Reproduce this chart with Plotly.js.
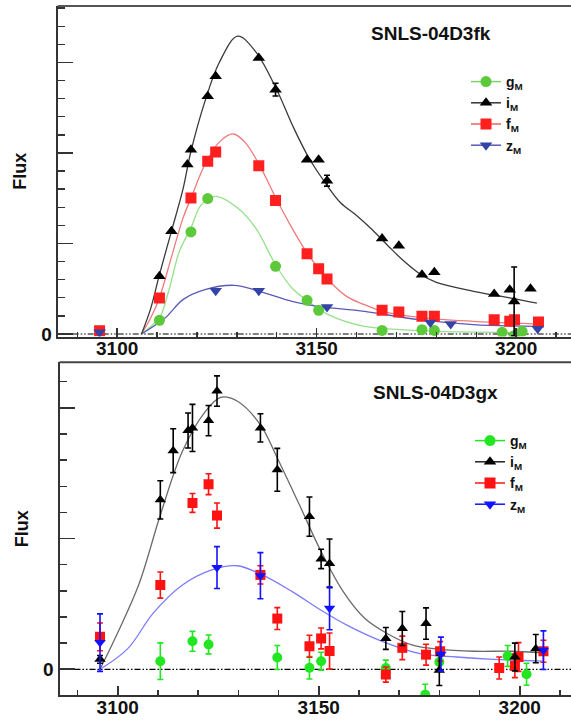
<!DOCTYPE html>
<html><head><meta charset="utf-8">
<script src="https://cdn.plot.ly/plotly-3.0.1.min.js"></script>
<style>html,body{margin:0;padding:0;background:#fff;overflow:hidden}#chart{width:571px;height:722px}</style>
</head><body><div id="chart"></div>
<script>
// ---------- Top panel: SNLS-04D3fk ----------
const fk_g_x = [3110.6,3118.5,3122.7,3139.7,3147.6,3150.5,3166.4,3176.4,3179.5,3196.5,3199.5,3201.5];
const fk_g_y = [0.76,5.64,7.48,3.74,1.86,1.31,0.20,0.24,0.20,0.09,-0.09,0.15];

const fk_i_x = [3110.6,3113.6,3117.6,3118.5,3122.7,3124.7,3135.5,3139.7,3147.6,3150.5,3152.6,3166.4,3170.6,3176.4,3179.5,3194.5,3198.4,3199.5,3203.6];
const fk_i_y = [3.19,5.67,9.36,10.18,13.13,14.24,15.25,13.5,9.63,9.63,8.47,5.27,4.88,3.28,3.41,2.21,2.45,1.80,2.50];
const fk_i_err = [0,0,0,0,0,0,0,0.35,0,0,0.3,0,0,0,0,0,0,1.9,0];

const fk_f_x = [3095.6,3110.6,3118.5,3122.7,3124.7,3135.5,3139.7,3147.6,3150.5,3152.6,3166.4,3170.6,3176.4,3179.5,3194.5,3198.4,3199.6,3205.6];
const fk_f_y = [0.18,1.99,7.51,9.54,10.06,9.30,7.38,4.44,3.61,3.04,1.31,1.22,0.98,0.98,0.79,0.70,0.79,0.66];

const fk_z_x = [3095.6,3124.7,3135.5,3152.6,3178.5,3183.6,3205.4];
const fk_z_y = [0.09,2.39,2.39,1.49,0.64,0.55,0.29];

// fitted curves
const fk_icurve_x = [3106.1,3108.4,3110.6,3113.6,3116.5,3118.4,3122.0,3125.6,3130.2,3134.7,3140.2,3144.0,3148.0,3152.0,3156.0,3160.0,3164.0,3168.0,3172.0,3176.0,3180.0,3189.3,3198.4,3205.2];
const fk_icurve_y = [0,1.4,3.28,5.67,8.0,10.0,12.85,15.0,16.45,15.6,13.4,11.5,9.75,8.4,7.25,6.55,5.75,4.85,4.0,3.3,2.85,2.36,2.0,1.71];
const fk_fcurve_x = [3106.1,3108.4,3110.6,3113.8,3116.5,3118.5,3122.0,3125.6,3129.1,3132.0,3135.6,3140.2,3143.8,3147.9,3152.9,3157.5,3162.0,3166.5,3175.6,3189.3,3205.6];
const fk_fcurve_y = [0,0.88,2.0,4.4,6.4,7.5,9.36,10.6,11.05,10.6,9.36,7.33,5.86,4.38,3.0,2.08,1.62,1.25,0.92,0.7,0.55];
const fk_gcurve_x = [3106.1,3108.4,3110.6,3112.9,3115.6,3118.5,3121.1,3124.7,3130.2,3134.7,3139.7,3143.8,3147.9,3152.9,3162.0,3171.0,3180.2,3200.2];
const fk_gcurve_y = [0,0.42,0.88,2.36,4.57,5.86,7.15,7.6,6.96,5.86,3.83,2.54,1.8,1.07,0.42,0.24,0.15,0.09];
const fk_zcurve_x = [3106.1,3112.0,3116.5,3122.0,3129.3,3135.6,3143.8,3150.2,3162.0,3175.6,3189.3,3205.2];
const fk_zcurve_y = [0,0.88,1.9,2.45,2.69,2.36,1.8,1.53,1.25,0.79,0.52,0.42];

// ---------- Bottom panel: SNLS-04D3gx ----------
const gx_g_x = [3110.6,3118.6,3122.6,3139.7,3147.7,3150.6,3166.7,3176.5,3180.0,3197.0,3201.7];
const gx_g_y = [0.31,1.07,0.95,0.45,0.06,0.31,0.05,-0.97,0.28,0.51,-0.19];
const gx_g_err = [0.70,0.38,0.36,0.46,0.43,0.34,0.30,0.40,0.35,0.40,0.42];

const gx_i_x = [3095.6,3110.6,3113.8,3117.5,3118.6,3122.6,3124.7,3135.5,3139.7,3147.7,3150.6,3152.7,3166.7,3170.8,3176.7,3180.0,3198.8,3204.0];
const gx_i_y = [0.38,6.48,8.36,9.13,9.23,9.51,10.64,9.23,7.63,5.84,4.22,4.05,1.18,1.56,1.75,-0.04,0.47,0.79];
const gx_i_err = [0.15,0.73,0.84,0.67,0.90,0.58,0.58,0.54,0.82,0.75,0.37,0.93,0.42,0.65,0.60,0.58,0.53,0.54];

const gx_f_x = [3095.6,3110.6,3118.6,3122.6,3124.7,3135.5,3139.7,3147.7,3150.6,3152.7,3166.7,3170.8,3176.7,3180.2,3194.9,3198.8,3199.7,3205.9];
const gx_f_y = [1.24,3.22,6.36,7.08,5.88,3.61,1.94,0.88,1.18,0.70,-0.20,0.82,0.56,0.69,0.05,0.13,0.47,0.69];
const gx_f_err = [0.53,0.50,0.36,0.40,0.48,0.35,0.42,0.42,0.40,0.69,0.29,0.45,0.40,0.37,0.42,0.45,0.55,0.42];

const gx_z_x = [3095.6,3124.7,3135.5,3152.7,3180.4,3205.9];
const gx_z_y = [1.02,3.89,3.58,2.33,0.58,0.73];
const gx_z_err = [1.10,0.80,0.88,0.82,0.65,0.74];

const gx_icurve_x = [3095.6,3099.7,3105.2,3110.6,3116.1,3121.5,3125.6,3129.7,3135.5,3139.7,3145.2,3150.6,3156.1,3161.5,3167.0,3173.4,3179.7,3188.8,3197.9,3205.6];
const gx_icurve_y = [0,1.3,3.22,5.9,8.34,9.8,10.4,10.26,9.35,8.08,6.29,4.5,2.97,1.94,1.37,0.92,0.77,0.69,0.69,0.63];
const gx_zcurve_x = [3095.6,3102.5,3108.8,3116.1,3123.4,3129.7,3136.1,3143.4,3150.6,3157.0,3166.1,3175.2,3184.3,3193.4,3205.6];
const gx_zcurve_y = [0,0.79,2.14,3.22,3.8,3.96,3.6,2.97,2.26,1.69,1.05,0.6,0.47,0.38,0.31];

const legendNames = ['g<sub>M</sub>','i<sub>M</sub>','f<sub>M</sub>','z<sub>M</sub>'];
const panelTitles = ['SNLS-04D3fk','SNLS-04D3gx'];

const FONT = 'Liberation Sans, Arial, sans-serif';

function pts(x, y, err, color, symbol, size, xa, ya) {
  const t = {x: x, y: y, mode: 'markers', type: 'scatter', xaxis: xa, yaxis: ya, showlegend: false,
    marker: {color: color, symbol: symbol, size: size, line: {width: 0}}, hoverinfo: 'x+y'};
  if (err) t.error_y = {type: 'data', array: err, visible: true, color: color, thickness: 1.6, width: 3};
  return t;
}
function curve(x, y, color, xa, ya, w) {
  return {x: x, y: y, mode: 'lines', type: 'scatter', xaxis: xa, yaxis: ya, showlegend: false,
    line: {color: color, width: w || 1.3, shape: 'spline', smoothing: 1}, hoverinfo: 'skip'};
}
function leg(name, color, lineColor, symbol, legendId) {
  return {x: [null], y: [null], mode: 'lines+markers', type: 'scatter', name: name, legend: legendId,
    xaxis: legendId === 'legend' ? 'x' : 'x2', yaxis: legendId === 'legend' ? 'y' : 'y2',
    marker: {color: color, symbol: symbol, size: 11}, line: {color: lineColor, width: 1.5}};
}

const topG = '#5cc93a', topR = '#ff1f1f', topB = '#3444a6', blk = '#000000';
const botG = '#22e622', botR = '#ff1212', botB = '#1212ff';

const data = [
  curve(fk_gcurve_x, fk_gcurve_y, '#96e08c', 'x', 'y'),
  curve(fk_fcurve_x, fk_fcurve_y, '#f07a7a', 'x', 'y'),
  curve(fk_zcurve_x, fk_zcurve_y, '#5a5ab8', 'x', 'y'),
  curve(fk_icurve_x, fk_icurve_y, '#3a3a3a', 'x', 'y'),
  pts(fk_g_x, fk_g_y, null, topG, 'circle', 11, 'x', 'y'),
  pts(fk_f_x, fk_f_y, null, topR, 'square', 11, 'x', 'y'),
  pts(fk_z_x, fk_z_y, null, topB, 'triangle-down', 11, 'x', 'y'),
  pts(fk_i_x, fk_i_y, fk_i_err, blk, 'triangle-up', 11, 'x', 'y'),

  curve(gx_icurve_x, gx_icurve_y, '#6a6a6a', 'x2', 'y2'),
  curve(gx_zcurve_x, gx_zcurve_y, '#7c7cff', 'x2', 'y2'),
  pts(gx_g_x, gx_g_y, gx_g_err, botG, 'circle', 10, 'x2', 'y2'),
  pts(gx_f_x, gx_f_y, gx_f_err, botR, 'square', 10, 'x2', 'y2'),
  pts(gx_i_x, gx_i_y, gx_i_err, blk, 'triangle-up', 10, 'x2', 'y2'),
  pts(gx_z_x, gx_z_y, gx_z_err, botB, 'triangle-down', 10, 'x2', 'y2'),

  leg(legendNames[0], topG, '#7ed46a', 'circle', 'legend'),
  leg(legendNames[1], blk, '#333', 'triangle-up', 'legend'),
  leg(legendNames[2], topR, '#f06060', 'square', 'legend'),
  leg(legendNames[3], topB, '#5a5ab8', 'triangle-down', 'legend'),
  leg(legendNames[0], botG, botG, 'circle', 'legend2'),
  leg(legendNames[1], blk, '#222', 'triangle-up', 'legend2'),
  leg(legendNames[2], botR, botR, 'square', 'legend2'),
  leg(legendNames[3], botB, botB, 'triangle-down', 'legend2')
];

const tickFont = {family: FONT, size: 19, color: '#111', weight: 'bold'};
function xAxis(domain, range, anchor) {
  return {domain: domain, range: range, anchor: anchor, tickmode: 'array', tickvals: [3100, 3150, 3200],
    ticks: 'inside', ticklen: 9, tickwidth: 1.6, tickcolor: '#333', ticklabelstandoff: -6,
    minor: {tickmode: 'linear', tick0: 3100, dtick: 10, ticks: 'inside', ticklen: 5, tickwidth: 1.4, tickcolor: '#333', showgrid: false},
    showline: true, linewidth: 2, linecolor: '#333', showgrid: false, zeroline: false, tickfont: tickFont, fixedrange: true};
}
function yAxis(domain, range, anchor, majors) {
  return {domain: domain, range: range, anchor: anchor, tickmode: 'array', tickvals: majors,
    ticktext: majors.map(v => v === 0 ? '0' : ''),
    ticks: 'inside', ticklen: 15, tickwidth: 1.6, tickcolor: '#333',
    minor: {tickmode: 'linear', tick0: 0, dtick: 1, ticks: 'inside', ticklen: 7, tickwidth: 1.4, tickcolor: '#333', showgrid: false},
    showline: true, linewidth: 2, linecolor: '#333', showgrid: false, zeroline: false, tickfont: tickFont,
    title: {text: 'Flux', font: {family: FONT, size: 18, color: '#111', weight: 'bold'}, standoff: 10}, fixedrange: true};
}

const zeroDash = '6px,2px,1.5px,2px,1.5px,2px';
const legFont = {family: FONT, size: 14, color: '#111', weight: 'bold'};
const layout = {
  width: 571, height: 722, margin: {l: 0, r: 0, t: 0, b: 0}, paper_bgcolor: '#fff', plot_bgcolor: '#fff',
  xaxis: xAxis([57.7/571, 1], [3085.1, 3213.75], 'y'),
  yaxis: yAxis([1 - 336.5/722, 1 - 6/722], [-0.138, 18.12], 'x', [0, 5, 10, 15]),
  xaxis2: xAxis([59.5/571, 1], [3085.52, 3212.76], 'y2'),
  yaxis2: yAxis([1 - 695/722, 1 - 362.3/722], [-0.983, 11.74], 'x2', [0, 5, 10]),
  legend: {x: 466/571, y: 1 - 66/722, xanchor: 'left', yanchor: 'top', bgcolor: 'rgba(0,0,0,0)',
    font: legFont, itemwidth: 30, tracegroupgap: 0},
  legend2: {x: 470/571, y: 1 - 425/722, xanchor: 'left', yanchor: 'top', bgcolor: 'rgba(0,0,0,0)',
    font: legFont, itemwidth: 30, tracegroupgap: 0},
  annotations: [
    {text: panelTitles[0], xref: 'paper', yref: 'paper', x: 431/571, y: 1 - 33/722, xanchor: 'center', yanchor: 'middle', showarrow: false,
     font: {family: FONT, size: 19, color: '#111', weight: 'bold'}},
    {text: panelTitles[1], xref: 'paper', yref: 'paper', x: 435/571, y: 1 - 392/722, xanchor: 'center', yanchor: 'middle', showarrow: false,
     font: {family: FONT, size: 19, color: '#111', weight: 'bold'}}
  ],
  shapes: [
    {type: 'line', xref: 'x domain', yref: 'y', x0: 0, x1: 1, y0: 0, y1: 0, line: {color: '#000', width: 1.2, dash: zeroDash}, layer: 'below'},
    {type: 'line', xref: 'x2 domain', yref: 'y2', x0: 0, x1: 1, y0: 0, y1: 0, line: {color: '#000', width: 1.2, dash: zeroDash}, layer: 'below'},
    {type: 'line', xref: 'x domain', yref: 'y domain', x0: 0, x1: 1, y0: 1, y1: 1, line: {color: '#555', width: 2}},
    {type: 'line', xref: 'x2 domain', yref: 'y2 domain', x0: 0, x1: 1, y0: 1, y1: 1, line: {color: '#444', width: 2}}
  ]
};

Plotly.newPlot('chart', data, layout, {staticPlot: true, displayModeBar: false});
</script></body></html>
